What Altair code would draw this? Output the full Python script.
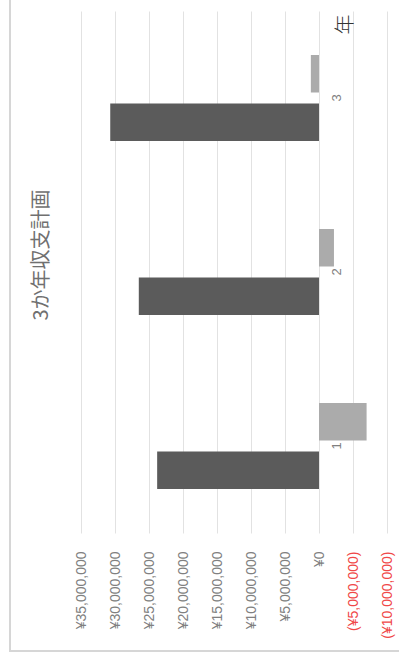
import altair as alt
import pandas as pd

# Three-year income / balance plan (yen)
years = ["1", "2", "3"]
series = ["収入", "収支差額"]
income = [23800000, 26500000, 30700000]
balance = [-7000000, -2200000, 1200000]
tick_values = [-10000000, -5000000, 0, 5000000, 10000000, 15000000,
               20000000, 25000000, 30000000, 35000000]
chart_title = "3か年収支計画"
year_axis_title = "年"

rows = []
for i, yr in enumerate(years):
    rows.append({"年度": yr, "系列": series[0], "金額": income[i]})
    rows.append({"年度": yr, "系列": series[1], "金額": balance[i]})
df = pd.DataFrame(rows)

W, H = 306, 522
PAD_L, PAD_T = 81, 11
x_min, x_max = tick_values[0], tick_values[-1]
zero_offset = -W * (0 - x_min) / (x_max - x_min)

yen_expr = ("datum.value < 0 ? '(¥' + format(-datum.value, ',') + ')' "
            ": '¥' + format(datum.value, ',')")

bars = alt.Chart(df).mark_bar().encode(
    x=alt.X(
        "金額:Q",
        scale=alt.Scale(domain=[x_min, x_max], reverse=True, nice=False, zero=False),
        axis=alt.Axis(
            values=tick_values,
            labelExpr=yen_expr,
            labelAngle=270,
            labelAlign="right",
            labelBaseline="middle",
            labelPadding=18,
            labelFontSize=14,
            labelFont="Liberation Sans",
            labelColor={"condition": {"test": "datum.value < 0", "value": "#f04848"},
                        "value": "#808080"},
            grid=True,
            gridColor="#e2e2e2",
            gridWidth=1,
            domain=False,
            ticks=False,
            title=None,
        ),
    ),
    y=alt.Y(
        "年度:N",
        sort=list(reversed(years)),
        scale=alt.Scale(paddingInner=0.506, paddingOuter=0.253),
        axis=alt.Axis(
            orient="right",
            offset=zero_offset,
            domain=False,
            ticks=False,
            grid=False,
            labelAngle=270,
            labelAlign="center",
            labelBaseline="top",
            labelPadding=11,
            labelFontSize=13,
            labelFont="Liberation Sans",
            labelColor="#808080",
            title=year_axis_title,
            titleAngle=270,
            titleX=26,
            titleY=13,
            titleAlign="center",
            titleBaseline="middle",
            titleFont="Noto Sans CJK JP",
            titleFontSize=20,
            titleFontWeight=300,
            titleColor="#333333",
        ),
    ),
    yOffset=alt.YOffset(
        "系列:N",
        sort=[series[1], series[0]],
        scale=alt.Scale(paddingInner=0.227, paddingOuter=0),
    ),
    color=alt.Color(
        "系列:N",
        scale=alt.Scale(domain=series, range=["#5b5b5b", "#ababab"]),
        legend=None,
    ),
)

# chart title, set vertically at the left of the plot
title = alt.Chart(pd.DataFrame({"t": [chart_title]})).mark_text(
    angle=270,
    fontSize=20,
    font="Noto Sans CJK JP",
    color="#707070",
    align="center",
    baseline="middle",
).encode(text="t:N", x=alt.value(42 - PAD_L), y=alt.value(255 - PAD_T))

# outer chart border
frame = alt.Chart(pd.DataFrame({"f": [0]})).mark_rect(
    fillOpacity=0,
    stroke="#d6d6d6",
    strokeWidth=2,
).encode(
    x=alt.value(10 - PAD_L),
    x2=alt.value(420 - PAD_L),
    y=alt.value(-30),
    y2=alt.value(651 - PAD_T),
)

chart = alt.layer(frame, bars, title).properties(
    width=W,
    height=H,
    autosize=alt.AutoSizeParams(type="none"),
    padding={"left": PAD_L, "top": PAD_T, "right": 399 - PAD_L - W, "bottom": 663 - PAD_T - H},
    background="white",
).configure_view(stroke=None)

chart.save("out.html", embed_options={"renderer": "svg", "actions": False})
